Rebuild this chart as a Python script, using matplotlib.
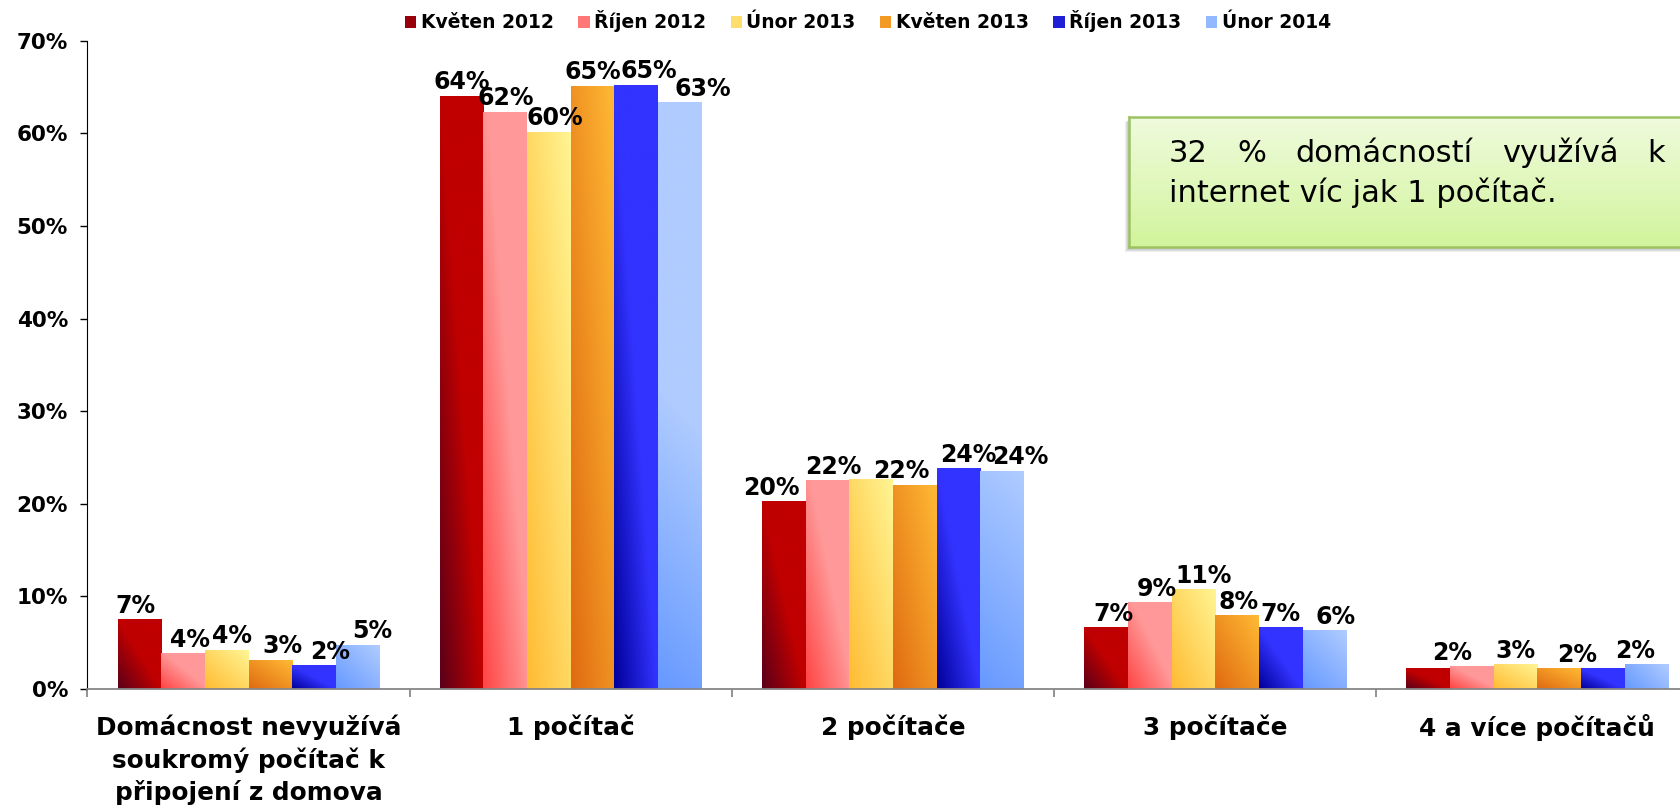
import numpy as np
import matplotlib
matplotlib.use('Agg')
import matplotlib.pyplot as plt
from matplotlib.colors import to_rgb
from matplotlib.patches import Patch, Rectangle

plt.rcParams['font.family'] = 'DejaVu Sans'

# data (percent of households)
categories = ["Domácnost nevyužívá\nsoukromý počítač k\npřipojení z domova",
              "1 počítač", "2 počítače", "3 počítače", "4 a více počítačů"]
series = ["Květen 2012", "Říjen 2012", "Únor 2013", "Květen 2013", "Říjen 2013", "Únor 2014"]

kveten_2012 = [7.5, 64.0, 20.2, 6.6, 2.2]
rijen_2012 = [3.8, 62.3, 22.5, 9.3, 2.4]
unor_2013 = [4.2, 60.1, 22.6, 10.7, 2.6]
kveten_2013 = [3.1, 65.1, 22.0, 7.9, 2.2]
rijen_2013 = [2.5, 65.2, 23.8, 6.6, 2.2]
unor_2014 = [4.7, 63.3, 23.5, 6.3, 2.6]

# printed data labels ('' = no label shown)
labels_kveten_2012 = ["7%", "64%", "20%", "7%", ""]
labels_rijen_2012 = ["4%", "62%", "22%", "9%", "2%"]
labels_unor_2013 = ["4%", "60%", "", "11%", "3%"]
labels_kveten_2013 = ["3%", "65%", "22%", "8%", "2%"]
labels_rijen_2013 = ["2%", "65%", "24%", "7%", ""]
labels_unor_2014 = ["5%", "63%", "24%", "6%", "2%"]

values = [kveten_2012, rijen_2012, unor_2013, kveten_2013, rijen_2013, unor_2014]
labels = [labels_kveten_2012, labels_rijen_2012, labels_unor_2013,
          labels_kveten_2013, labels_rijen_2013, labels_unor_2014]

# gradient styles: (start colour, end colour, stop, mode)
styles = [
    ('#5A0018', '#C00000', 0.5, 'shape'),
    ('#FF4444', '#FF9999', 0.55, 'shape'),
    ('#FFBB33', '#FFF593', 1.0, 'shape'),
    ('#E06A10', '#FFBA35', 1.0, 'shape'),
    ('#000099', '#3333FF', 0.5, 'shape'),
    ('#6699FF', '#B0CCFF', 1.0, 'abs'),
]

# horizontal nudges of data labels (pixels), to mimic the original placement
label_dx = [
    [-4, 0, -12, 7, 0],
    [7, 0, 6, 7, -20],
    [5, 6, 0, 10, 0],
    [12, 0, -14, 2, 18],
    [16, 13, 10, 0, 0],
    [15, 23, 18, 11, -11],
]


def gradient(c0, c1, stop, mode, w_px, h_px):
    nx = max(int(w_px), 2)
    ny = max(int(h_px), 2)
    xx = np.linspace(0, 1, nx)[None, :]
    yy = np.linspace(0, 1, ny)[:, None]
    if mode == 'shape':
        t = (xx + yy) / 2
    else:
        t = (xx * w_px + yy * h_px) / (w_px + min(h_px, 260))
    t = np.clip(t / stop, 0, 1)
    a, b = np.array(to_rgb(c0)), np.array(to_rgb(c1))
    return a + (b - a) * t[..., None]


W, H = 1681, 809
fig = plt.figure(figsize=(W / 100, H / 100), dpi=100)
ax = fig.add_axes([87.5 / W, 120 / H, 1611 / W, 648.3 / H])
ax.set_zorder(0)

n_cat = len(categories)
bw = 0.1355
px_x = ax.bbox.width / n_cat
px_y = ax.bbox.height / 70

for j, (vals, (c0, c1, stop, mode)) in enumerate(zip(values, styles)):
    xs = np.arange(n_cat) + 0.5 + (j - 2.5) * bw
    ax.bar(xs, vals, width=bw, color='none', edgecolor='none')
    for i, (x, v) in enumerate(zip(xs, vals)):
        img = gradient(c0, c1, stop, mode, bw * px_x, v * px_y)
        ax.imshow(img, extent=[x - bw / 2, x + bw / 2, 0, v], origin='lower',
                  aspect='auto', interpolation='bilinear', zorder=2)
        if labels[j][i]:
            ax.annotate(labels[j][i], (x, v), xytext=(label_dx[j][i], 7),
                        textcoords='offset pixels', ha='center', va='baseline',
                        fontsize=17, fontweight='bold', zorder=4)

ax.set_xlim(0, n_cat)
ax.set_ylim(0, 70)
ax.set_yticks(np.arange(0, 71, 10))
ax.set_yticklabels([f"{v}%" for v in range(0, 71, 10)], fontsize=15.5, fontweight='bold')
ax.tick_params(axis='y', length=5, width=1, pad=9, color='black')

ax.set_xticks(np.arange(0, n_cat + 1))
ax.set_xticklabels([])
ax.tick_params(axis='x', which='major', length=6, width=1.2, color='#808080')
ax.set_xticks(np.arange(n_cat) + 0.5, minor=True)
ax.set_xticklabels(categories, minor=True, fontsize=17.8, fontweight='bold', linespacing=1.38)
ax.tick_params(axis='x', which='minor', length=0, pad=18)

for s in ['top', 'right']:
    ax.spines[s].set_visible(False)
ax.spines['left'].set_color('black')
ax.spines['bottom'].set_color('#868686')
ax.spines['bottom'].set_linewidth(1.3)
ax.spines['bottom'].set_zorder(3)

# legend
handles = [Patch(facecolor=tuple(np.array(to_rgb(c0)) * 0.4 + np.array(to_rgb(c1)) * 0.6))
           for c0, c1, _, _ in styles]
fig.legend(handles, series, loc='center', bbox_to_anchor=(868 / W, 1 - 21.4 / H), ncol=6,
           frameon=False, handlelength=0.6, handleheight=0.6, handletextpad=0.25,
           columnspacing=1.3, prop={'weight': 'bold', 'size': 13.5})

# annotation box
bx0, by0, by1 = 1129.3, 117.3, 246.7
for k, a in enumerate([0.10, 0.10, 0.10]):
    fig.patches.append(Rectangle(((bx0 - 2 - k) / W, 1 - (by1 + 3 + k) / H), 0.5, (by1 - by0) / H,
                                 transform=fig.transFigure, facecolor='#555555',
                                 edgecolor='none', alpha=a, zorder=0.5))
bx = fig.add_axes([bx0 / W, 1 - by1 / H, (1700 - bx0) / W, (by1 - by0) / H])
bx.set_zorder(1)
grad = np.linspace(0, 1, 100)[:, None, None]
top_c, bot_c = np.array(to_rgb('#EFFBDD')), np.array(to_rgb('#D2F49C'))
bx.imshow(top_c + (bot_c - top_c) * grad * np.ones((1, 2, 1)), aspect='auto',
          extent=[0, 1, 0, 1], interpolation='bilinear')
bx.set_xticks([])
bx.set_yticks([])
for s in bx.spines.values():
    s.set_color('#9DC262')
    s.set_linewidth(1.8)

line1 = ["32", "%", "domácností", "využívá", "k"]
line2 = "internet víc jak 1 počítač."
left, right = 1169, 1665
base1, base2 = 161.7, 201.7
words = [fig.text(left / W, 1 - base1 / H, w, fontsize=22, va='baseline', ha='left', zorder=5)
         for w in line1]
fig.text(left / W, 1 - base2 / H, line2, fontsize=22, va='baseline', ha='left', zorder=5)

fig.canvas.draw()
r = fig.canvas.get_renderer()
widths = [t.get_window_extent(r).width for t in words]
gap = (right - left - sum(widths)) / (len(words) - 1)
x = left
for t, w in zip(words, widths):
    t.set_x(x / W)
    x += w + gap

fig.savefig('out.png', dpi=100)
